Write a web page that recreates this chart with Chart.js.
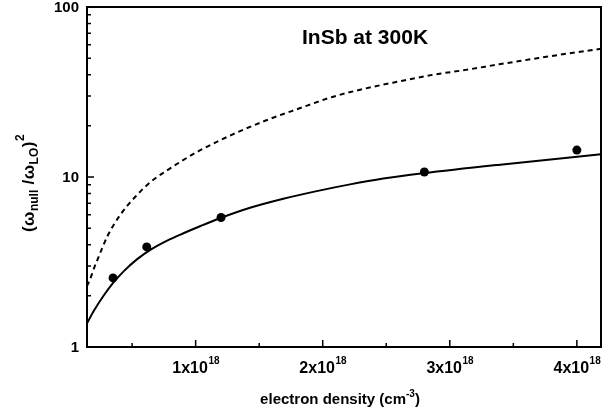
<!DOCTYPE html>
<html>
<head>
<meta charset="utf-8">
<script src="https://cdn.jsdelivr.net/npm/chart.js@4/dist/chart.umd.min.js"></script>
<style>
  html, body { margin: 0; padding: 0; background: #ffffff; }
  canvas { display: block; }
</style>
</head>
<body>
<canvas id="c" width="613" height="413"></canvas>
<script>
// Measured points (electron density in cm^-3, squared frequency ratio)
const measuredDensity = [0.35e18, 0.615e18, 1.2e18, 2.8e18, 4.0e18];
const measuredRatio   = [2.55, 3.88, 5.78, 10.7, 14.4];

// Solid calculated curve
const solidCurveDensity = [0.145e18, 0.199e18, 0.278e18, 0.349e18, 0.435e18, 0.54e18, 0.646e18, 0.776e18,
                           0.908e18, 1.039e18, 1.197e18, 1.428e18, 1.69e18, 1.953e18, 2.215e18, 2.477e18,
                           2.792e18, 3.396e18, 4.19e18];
const solidCurveRatio   = [1.377, 1.632, 2.015, 2.372, 2.793, 3.287, 3.741, 4.228,
                           4.682, 5.15, 5.741, 6.59, 7.45, 8.26, 9.05, 9.79,
                           10.52, 11.82, 13.6];

// Dashed calculated curve
const dashedCurveDensity = [0.144e18, 0.168e18, 0.199e18, 0.231e18, 0.265e18, 0.304e18, 0.357e18, 0.409e18,
                            0.461e18, 0.528e18, 0.593e18, 0.672e18, 0.764e18, 0.894e18, 1.026e18, 1.288e18,
                            1.551e18, 1.813e18, 2.076e18, 2.338e18, 2.601e18, 2.863e18, 3.126e18, 3.388e18,
                            3.65e18, 3.914e18, 4.19e18];
const dashedCurveRatio   = [2.28, 2.49, 2.89, 3.31, 3.82, 4.46, 5.26, 6.02,
                            6.76, 7.69, 8.63, 9.69, 10.81, 12.47, 14.24, 17.76,
                            21.48, 25.28, 29.57, 33.19, 36.5, 39.87, 42.67, 46.0,
                            49.43, 53.05, 56.8];

// Axis ticks
const xMajorTicks = [1e18, 2e18, 3e18, 4e18];
const xMinorTicks = [0.5e18, 1.5e18, 2.5e18, 3.5e18];
const yDecadeTicks = [1, 10, 100];
const yMinorTicks = [2, 3, 4, 5, 6, 7, 8, 9, 20, 30, 40, 50, 60, 70, 80, 90];

const FONT = "'Liberation Sans', Arial, Helvetica, sans-serif";

function pairs(xs, ys) { return xs.map((x, i) => ({ x: x, y: ys[i] })); }

// Frame, inward tick marks, tick labels and titles
const framePlugin = {
  id: 'framePlugin',
  afterDatasetsDraw(chart) {
    const ctx = chart.ctx;
    const a = chart.chartArea;
    const xs = chart.scales.x, ys = chart.scales.y;
    ctx.save();
    ctx.strokeStyle = '#000';
    ctx.fillStyle = '#000';

    // box
    ctx.lineWidth = 2;
    ctx.strokeRect(a.left, a.top, a.right - a.left, a.bottom - a.top);

    // x tick marks (pointing inward from the bottom axis)
    ctx.lineWidth = 1.5;
    ctx.beginPath();
    xMajorTicks.forEach(v => { const p = xs.getPixelForValue(v); ctx.moveTo(p, a.bottom); ctx.lineTo(p, a.bottom - 7); });
    xMinorTicks.forEach(v => { const p = xs.getPixelForValue(v); ctx.moveTo(p, a.bottom); ctx.lineTo(p, a.bottom - 4); });
    // y tick marks (pointing inward from the left axis)
    yDecadeTicks.forEach(v => { const p = ys.getPixelForValue(v); ctx.moveTo(a.left, p); ctx.lineTo(a.left + 7, p); });
    yMinorTicks.forEach(v => { const p = ys.getPixelForValue(v); ctx.moveTo(a.left, p); ctx.lineTo(a.left + 4, p); });
    ctx.stroke();

    // y tick labels
    ctx.font = 'bold 15px ' + FONT;
    ctx.textAlign = 'right';
    ctx.textBaseline = 'middle';
    yDecadeTicks.forEach(v => { ctx.fillText(String(v), a.left - 8, ys.getPixelForValue(v) + 1); });

    // x tick labels: "Nx10" with superscript exponent
    ctx.textAlign = 'left';
    ctx.textBaseline = 'alphabetic';
    xMajorTicks.forEach(v => {
      const main = (v / 1e18) + 'x10';
      const sup = '18';
      ctx.font = 'bold 16px ' + FONT;
      const wm = ctx.measureText(main).width;
      ctx.font = 'bold 10px ' + FONT;
      const ws = ctx.measureText(sup).width;
      const x0 = xs.getPixelForValue(v) - (wm + ws) / 2;
      ctx.font = 'bold 16px ' + FONT;
      ctx.fillText(main, x0, a.bottom + 26);
      ctx.font = 'bold 10px ' + FONT;
      ctx.fillText(sup, x0 + wm + 0.5, a.bottom + 17);
    });

    // x axis title
    {
      const p1 = 'electron density (cm', p2 = '-3', p3 = ')';
      ctx.font = 'bold 15px ' + FONT;
      const w1 = ctx.measureText(p1).width, w3 = ctx.measureText(p3).width;
      ctx.font = 'bold 10px ' + FONT;
      const w2 = ctx.measureText(p2).width;
      const cx = (a.left + a.right) / 2 - 4;
      let x = cx - (w1 + w2 + w3) / 2;
      const base = 404;
      ctx.font = 'bold 15px ' + FONT;
      ctx.fillText(p1, x, base); x += w1;
      ctx.font = 'bold 10px ' + FONT;
      ctx.fillText(p2, x, base - 7); x += w2;
      ctx.font = 'bold 15px ' + FONT;
      ctx.fillText(p3, x, base);
    }

    // y axis title, rotated: (ω_null /ω_LO)^2
    {
      const parts = [
        { t: '(', s: 17, dy: 0 },
        { t: 'ω', s: 17, dy: 0 },
        { t: 'null', s: 12, dy: 4 },
        { t: ' /', s: 17, dy: 0 },
        { t: 'ω', s: 17, dy: 0 },
        { t: 'LO', s: 12, dy: 4 },
        { t: ')', s: 17, dy: 0 },
        { t: '2', s: 12, dy: -10 }
      ];
      let total = 0;
      parts.forEach(p => { ctx.font = 'bold ' + p.s + 'px ' + FONT; p.w = ctx.measureText(p.t).width; total += p.w + 0.5; });
      ctx.translate(34, 183);
      ctx.rotate(-Math.PI / 2);
      let x = -total / 2;
      parts.forEach(p => {
        ctx.font = 'bold ' + p.s + 'px ' + FONT;
        ctx.fillText(p.t, x, p.dy);
        x += p.w + 0.5;
      });
      ctx.setTransform(1, 0, 0, 1, 0, 0);
    }

    // panel label
    ctx.font = 'bold 21px ' + FONT;
    ctx.textAlign = 'left';
    ctx.fillText('InSb at 300K', 302, 44);

    ctx.restore();
  }
};

new Chart(document.getElementById('c'), {
  type: 'scatter',
  data: {
    datasets: [
      {
        data: pairs(dashedCurveDensity, dashedCurveRatio),
        showLine: true,
        borderColor: '#000',
        borderWidth: 2,
        borderDash: [5, 4],
        pointRadius: 0,
        cubicInterpolationMode: 'monotone'
      },
      {
        data: pairs(solidCurveDensity, solidCurveRatio),
        showLine: true,
        borderColor: '#000',
        borderWidth: 2,
        pointRadius: 0,
        cubicInterpolationMode: 'monotone'
      },
      {
        data: pairs(measuredDensity, measuredRatio),
        showLine: false,
        pointRadius: 4.5,
        pointBackgroundColor: '#000',
        pointBorderColor: '#000',
        pointBorderWidth: 0
      }
    ]
  },
  options: {
    responsive: false,
    animation: false,
    devicePixelRatio: 1,
    layout: { padding: { left: 0, right: 12, top: 7, bottom: 0 } },
    plugins: { legend: { display: false }, tooltip: { enabled: false } },
    scales: {
      x: {
        type: 'linear',
        min: 0.145e18,
        max: 4.19e18,
        grid: { display: false },
        border: { display: false },
        ticks: { display: false },
        afterFit(scale) { scale.height = 66; }
      },
      y: {
        type: 'logarithmic',
        min: 1,
        max: 100,
        grid: { display: false },
        border: { display: false },
        ticks: { display: false },
        afterFit(scale) { scale.width = 87; }
      }
    }
  },
  plugins: [framePlugin]
});
</script>
</body>
</html>
